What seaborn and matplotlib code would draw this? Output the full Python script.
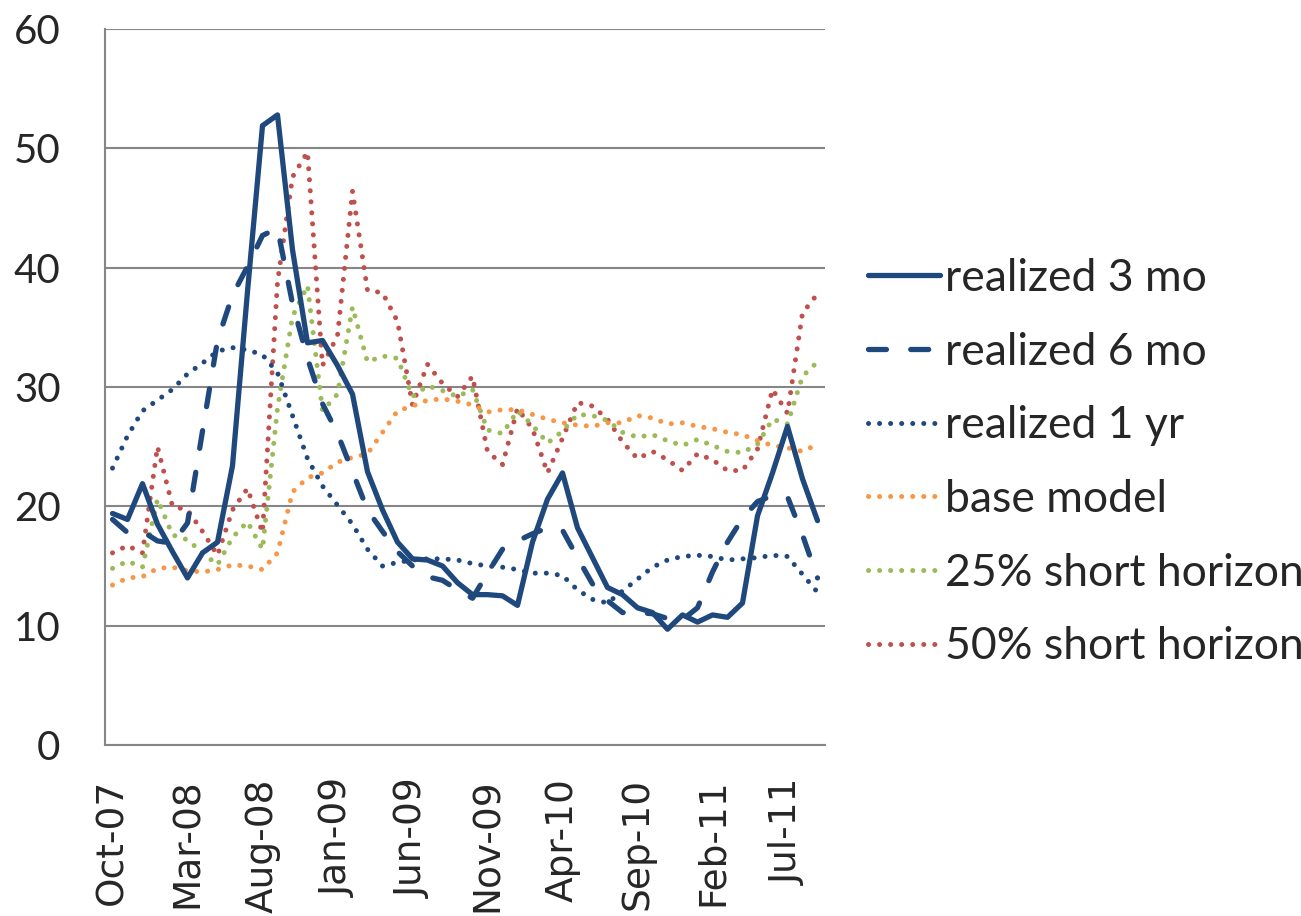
# Volatility: realized vs model estimates, monthly Oct-07 .. Sep-11

import numpy as np
import matplotlib
matplotlib.use('Agg')
import matplotlib.pyplot as plt
import seaborn as sns

# month index 0 = Oct-07
tick_pos = [0, 5, 10, 15, 20, 25, 30, 35, 40, 45]
tick_labels = ['Oct-07', 'Mar-08', 'Aug-08', 'Jan-09', 'Jun-09', 'Nov-09',
               'Apr-10', 'Sep-10', 'Feb-11', 'Jul-11']

realized_3mo = [19.4, 18.9, 21.9, 18.5, 16.2, 14.0, 16.1, 17.0, 23.4, 38.0,
                51.9, 52.8, 41.5, 33.7, 33.9, 31.8, 29.4, 22.9, 19.7, 17.0,
                15.6, 15.5, 15.0, 13.6, 12.6, 12.6, 12.5, 11.7, 17.0, 20.6,
                22.8, 18.2, 15.7, 13.2, 12.6, 11.5, 11.1, 9.7, 10.9, 10.3,
                10.9, 10.7, 11.9, 19.2, 22.8, 26.7, 22.3, 18.8]

realized_6mo = [18.9, 17.8, 17.9, 17.1, 16.9, 18.6, 26.3, 33.9, 37.7, 40.1,
                42.7, 43.3, 37.0, 32.4, 28.6, 26.1, 22.9, 19.7, 17.9, 16.2,
                15.0, 14.1, 13.8, 13.0, 12.3, 14.4, 16.4, 17.1, 17.7, 18.2,
                18.0, 15.7, 13.5, 12.1, 11.1, 11.1, 11.0, 10.6, 10.5, 11.5,
                14.5, 17.0, 19.0, 20.4, 20.9, 20.8, 17.6, 14.0]

realized_1yr = [23.2, 25.9, 28.0, 28.9, 29.8, 31.1, 32.0, 33.0, 33.3, 33.1,
                32.7, 31.2, 27.6, 24.0, 21.7, 20.1, 18.5, 16.4, 15.0, 15.3,
                15.5, 15.6, 15.6, 15.5, 15.2, 15.0, 14.9, 14.7, 14.4, 14.4,
                14.2, 13.0, 12.2, 11.9, 12.9, 13.9, 14.9, 15.5, 15.8, 15.9,
                15.8, 15.5, 15.6, 15.7, 15.9, 15.8, 14.3, 12.8]

base_model = [13.4, 14.0, 14.1, 14.8, 14.9, 14.6, 14.5, 14.7, 15.1, 15.0,
              14.7, 16.1, 21.2, 22.4, 22.8, 23.7, 24.1, 24.4, 26.2, 28.0,
              28.4, 28.9, 29.0, 28.8, 28.5, 27.9, 28.1, 28.1, 27.7, 27.3,
              27.0, 26.8, 26.7, 27.0, 27.0, 27.6, 27.4, 26.9, 27.0, 26.7,
              26.5, 26.2, 26.0, 25.5, 25.1, 24.9, 24.6, 25.2]

short_25 = [14.8, 15.4, 14.9, 20.6, 17.6, 17.2, 16.1, 15.1, 17.4, 18.7,
            16.4, 28.2, 35.9, 38.5, 28.0, 29.4, 36.7, 32.1, 32.6, 32.4,
            29.2, 30.1, 29.7, 29.2, 29.8, 26.4, 26.1, 28.0, 26.8, 25.3,
            26.3, 27.7, 27.6, 27.2, 26.2, 25.8, 26.0, 25.5, 25.1, 25.6,
            25.1, 24.6, 24.5, 25.2, 27.3, 26.9, 30.9, 32.1]

short_50 = [16.1, 16.7, 16.1, 25.0, 20.0, 19.7, 17.9, 15.9, 19.7, 21.5,
            17.8, 38.8, 47.6, 49.7, 31.8, 34.3, 46.4, 38.1, 37.9, 35.5,
            28.5, 31.9, 30.3, 29.2, 30.9, 24.6, 23.5, 28.2, 26.5, 22.8,
            25.7, 28.7, 28.4, 27.3, 25.4, 24.0, 24.6, 23.9, 23.0, 24.4,
            23.9, 23.0, 23.0, 24.8, 29.8, 27.8, 36.2, 37.8]

series_names = ['realized 3 mo', 'realized 6 mo', 'realized 1 yr',
                'base model', '25% short horizon', '50% short horizon']
series_values = [realized_3mo, realized_6mo, realized_1yr,
                 base_model, short_25, short_50]

navy = '#1F497D'
colors = [navy, navy, navy, '#F79646', '#9BBB59', '#C0504D']
dot = (0, (0.01, 2.2))
styles = ['-', (0, (3.4, 4.6)), dot, dot, dot, dot]
widths = [3.8, 3.8, 3.6, 3.6, 3.6, 3.6]

sns.set_style('white')
plt.rcParams['font.family'] = ['Lato', 'DejaVu Sans']

fig = plt.figure(figsize=(13.01, 9.16), dpi=100)
ax = fig.add_axes([105 / 1301, 1 - 745 / 916, 720 / 1301, 716 / 916])

months = np.arange(len(realized_3mo))
# realized 3 mo ends up on top
for k in [5, 4, 3, 2, 1, 0]:
    sns.lineplot(x=months, y=series_values[k], ax=ax, color=colors[k],
                 linestyle=styles[k], lw=widths[k], label=series_names[k],
                 dash_capstyle='round', solid_capstyle='round',
                 solid_joinstyle='round', zorder=3 + (5 - k))

ax.set_xlim(-0.5, len(months) - 0.5)
ax.set_ylim(0, 60)
ax.set_yticks(range(0, 61, 10))
ax.grid(axis='y', color='#868686', lw=1.5)
ax.grid(axis='x', visible=False)
ax.set_axisbelow(True)

ax.set_xticks(tick_pos)
ax.set_xticklabels(tick_labels, rotation=90, fontsize=27, family='DejaVu Sans')
ax.set_xticks(np.arange(-0.5, len(months), 5), minor=True)
ax.tick_params(axis='x', which='major', length=0, pad=24)
ax.tick_params(axis='x', which='minor', length=11, width=1.5, color='#868686')
ax.tick_params(axis='y', length=10, width=1.5, color='#868686', labelsize=29, pad=22)

for side in ['top', 'right']:
    ax.spines[side].set_visible(False)
for side in ['left', 'bottom']:
    ax.spines[side].set_color('#868686')
    ax.spines[side].set_linewidth(1.5)

handles, labels = ax.get_legend_handles_labels()
handles = handles[::-1]
labels = labels[::-1]
ax.legend_.remove()
fig.legend(handles, labels, loc='upper left', bbox_to_anchor=(868 / 1301, 1 - 258 / 916),
           frameon=False, fontsize=32, handlelength=1.62, handletextpad=0.11,
           labelspacing=0.735, borderaxespad=0, borderpad=0)

plt.savefig('out.png', dpi=100)
